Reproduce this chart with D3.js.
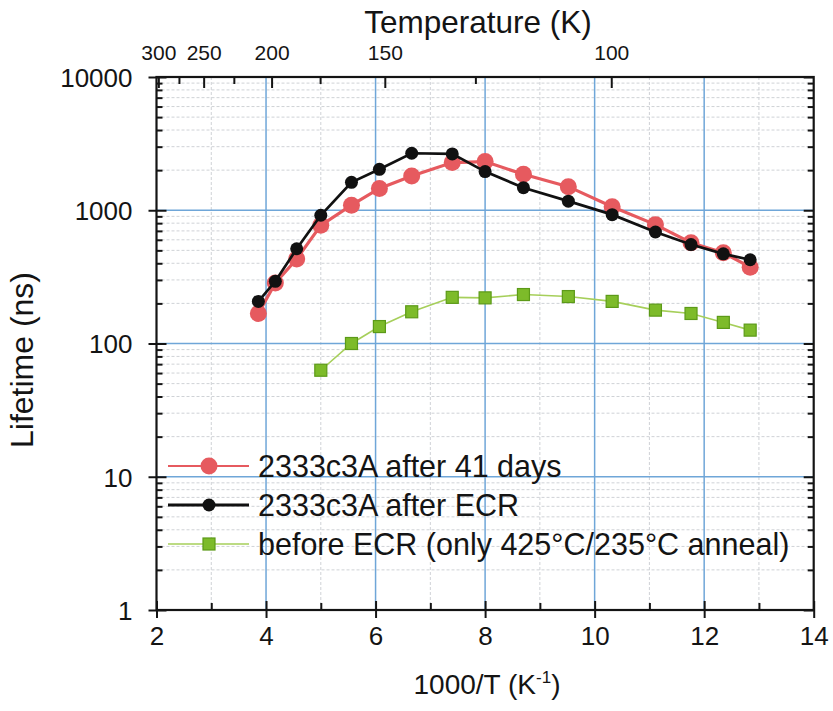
<!DOCTYPE html>
<html>
<head>
<meta charset="utf-8">
<script src="https://cdn.jsdelivr.net/npm/d3@7"></script>
<style>
  html, body { margin: 0; padding: 0; background: #ffffff; }
  svg { display: block; font-family: "Liberation Sans", Arial, sans-serif; }
</style>
</head>
<body>
<svg id="chart" width="833" height="711"></svg>
<script>
// ---- data ----
const xAfter = [3.86, 4.17, 4.56, 5.0, 5.56, 6.07, 6.66, 7.4, 8.0, 8.7, 9.52, 10.32, 11.11, 11.76, 12.35, 12.84];
const red41days = [168, 285, 431, 771, 1091, 1459, 1807, 2280, 2319, 1860, 1503, 1062, 780, 570, 480, 374];
const blackECR  = [207, 293, 514, 917, 1619, 2028, 2678, 2647, 1950, 1476, 1170, 927, 687, 553, 471, 425];
const xBefore = [5.0, 5.56, 6.07, 6.66, 7.4, 8.0, 8.7, 9.52, 10.32, 11.11, 11.76, 12.35, 12.84];
const greenBefore = [63, 100, 134, 173, 222, 220, 233, 225, 207, 178, 168, 144, 126];

const seriesNames = ["2333c3A after 41 days", "2333c3A after ECR", "before ECR (only 425°C/235°C anneal)"];
const xTicks = [2, 4, 6, 8, 10, 12, 14];
const xMinorTicks = [3, 5, 7, 9, 11, 13];
const yTicks = [1, 10, 100, 1000, 10000];
const tempMajor = [300, 250, 200, 150, 100];
const tempMinor = [275, 225, 175, 125];
const topDomain = [3.306, 12.98]; // 1000/T at the left and right edges of the top axis

// ---- layout ----
const L = 156.5, R = 813.7, T = 77, B = 610;
const svg = d3.select("#chart");
const ink = "#141414";

const x = d3.scaleLinear().domain([2, 14]).range([L, R]);
const xTop = d3.scaleLinear().domain(topDomain).range([L, R]);
const y = d3.scaleLog().domain([1, 10000]).range([B, T]);

// minor y values
const yMinor = [];
[1, 10, 100, 1000].forEach(d => { for (let k = 2; k <= 9; k++) yMinor.push(d * k); });

// ---- grid ----
const grid = svg.append("g");
grid.selectAll(".gmy").data(yMinor).enter().append("line")
  .attr("x1", L).attr("x2", R).attr("y1", d => y(d)).attr("y2", d => y(d))
  .attr("stroke", "#cfd2d6").attr("stroke-width", 1).attr("stroke-dasharray", "3,2");
grid.selectAll(".gmx").data(xMinorTicks).enter().append("line")
  .attr("y1", T).attr("y2", B).attr("x1", d => x(d)).attr("x2", d => x(d))
  .attr("stroke", "#cfd2d6").attr("stroke-width", 1).attr("stroke-dasharray", "3,2");
grid.selectAll(".gy").data([10, 100, 1000]).enter().append("line")
  .attr("x1", L).attr("x2", R).attr("y1", d => y(d)).attr("y2", d => y(d))
  .attr("stroke", "#6fa6d8").attr("stroke-width", 1.5);
grid.selectAll(".gx").data([4, 6, 8, 10, 12]).enter().append("line")
  .attr("y1", T).attr("y2", B).attr("x1", d => x(d)).attr("x2", d => x(d))
  .attr("stroke", "#6fa6d8").attr("stroke-width", 1.5);

// ---- axes ----
const fmt = d => String(d);
const gBottom = svg.append("g").attr("transform", `translate(0,${B})`)
  .call(d3.axisBottom(x).tickValues(xTicks).tickFormat(fmt).tickSize(-9).tickPadding(17));
const gBottomMinor = svg.append("g").attr("transform", `translate(0,${B})`)
  .call(d3.axisBottom(x).tickValues(xMinorTicks).tickFormat("").tickSize(-7));
const gBottomOut = svg.append("g").attr("transform", `translate(0,${B})`)
  .call(d3.axisBottom(x).tickValues(xTicks).tickFormat("").tickSize(8));

const gLeft = svg.append("g").attr("transform", `translate(${L},0)`)
  .call(d3.axisLeft(y).tickValues(yTicks).tickFormat(fmt).tickSize(8).tickPadding(16));
const gLeftIn = svg.append("g").attr("transform", `translate(${L},0)`)
  .call(d3.axisLeft(y).tickValues(yTicks).tickFormat("").tickSize(-10));
const gLeftMinor = svg.append("g").attr("transform", `translate(${L},0)`)
  .call(d3.axisLeft(y).tickValues(yMinor).tickFormat("").tickSize(-6));
const gRightMajor = svg.append("g").attr("transform", `translate(${R},0)`)
  .call(d3.axisRight(y).tickValues(yTicks).tickFormat("").tickSize(-10));
const gRightMinor = svg.append("g").attr("transform", `translate(${R},0)`)
  .call(d3.axisRight(y).tickValues(yMinor).tickFormat("").tickSize(-6));

const gTop = svg.append("g").attr("transform", `translate(0,${T})`)
  .call(d3.axisTop(xTop).tickValues(tempMajor.map(t => 1000 / t)).tickFormat((d, i) => tempMajor[i]).tickSize(-11).tickPadding(17));
const gTopMinor = svg.append("g").attr("transform", `translate(0,${T})`)
  .call(d3.axisTop(xTop).tickValues(tempMinor.map(t => 1000 / t)).tickFormat("").tickSize(-7));

[gBottom, gBottomMinor, gBottomOut, gLeft, gLeftIn, gLeftMinor, gRightMajor, gRightMinor, gTop, gTopMinor].forEach(g => {
  g.select(".domain").remove();
  g.selectAll(".tick line").attr("stroke", ink).attr("stroke-width", 2);
  g.selectAll(".tick text").attr("fill", ink).attr("font-family", "Liberation Sans, Arial, sans-serif");
});
gBottom.selectAll(".tick text").attr("font-size", 26);
gLeft.selectAll(".tick text").attr("font-size", 26).attr("dy", "0.36em");
gTop.selectAll(".tick text").attr("font-size", 21);

// frame
svg.append("rect").attr("x", L).attr("y", T).attr("width", R - L).attr("height", B - T)
  .attr("fill", "none").attr("stroke", ink).attr("stroke-width", 2.2);

// ---- titles ----
svg.append("text").attr("x", 478).attr("y", 33).attr("text-anchor", "middle")
  .attr("font-size", 31.5).attr("fill", ink).text("Temperature (K)");
const xt = svg.append("text").attr("x", 487).attr("y", 694).attr("text-anchor", "middle")
  .attr("font-size", 28).attr("fill", ink);
xt.append("tspan").text("1000/T (K");
xt.append("tspan").attr("font-size", 17).attr("dy", -11).text("-1");
xt.append("tspan").attr("dy", 11).text(")");
svg.append("text").attr("transform", "translate(33,360) rotate(-90)").attr("text-anchor", "middle")
  .attr("font-size", 32).attr("fill", ink).text("Lifetime (ns)");

// ---- series ----
const redC = "#e65a5f", blackC = "#111111", greenLine = "#a6cf5a", greenFill = "#7dbb2a", greenStroke = "#5c9a18";
const line = d3.line().x(d => x(d[0])).y(d => y(d[1]));
const redPts = xAfter.map((v, i) => [v, red41days[i]]);
const blackPts = xAfter.map((v, i) => [v, blackECR[i]]);
const greenPts = xBefore.map((v, i) => [v, greenBefore[i]]);

const plot = svg.append("g");
plot.append("path").datum(greenPts).attr("d", line).attr("fill", "none")
  .attr("stroke", greenLine).attr("stroke-width", 1.6);
plot.selectAll(".gm").data(greenPts).enter().append("rect")
  .attr("x", d => x(d[0]) - 6).attr("y", d => y(d[1]) - 6).attr("width", 12).attr("height", 12)
  .attr("fill", greenFill).attr("stroke", greenStroke).attr("stroke-width", 1.2);

plot.append("path").datum(redPts).attr("d", line).attr("fill", "none")
  .attr("stroke", redC).attr("stroke-width", 3.2);
plot.selectAll(".rm").data(redPts).enter().append("circle")
  .attr("cx", d => x(d[0])).attr("cy", d => y(d[1])).attr("r", 8.5).attr("fill", redC);

plot.append("path").datum(blackPts).attr("d", line).attr("fill", "none")
  .attr("stroke", blackC).attr("stroke-width", 2.7);
plot.selectAll(".bm").data(blackPts).enter().append("circle")
  .attr("cx", d => x(d[0])).attr("cy", d => y(d[1])).attr("r", 6.5).attr("fill", blackC);

// ---- legend ----
const leg = svg.append("g");
const legRows = [466, 505, 544];
leg.append("line").attr("x1", 168).attr("x2", 249).attr("y1", legRows[0]).attr("y2", legRows[0])
  .attr("stroke", redC).attr("stroke-width", 1.8);
leg.append("circle").attr("cx", 209).attr("cy", legRows[0]).attr("r", 8.5).attr("fill", redC);
leg.append("line").attr("x1", 168).attr("x2", 249).attr("y1", legRows[1]).attr("y2", legRows[1])
  .attr("stroke", blackC).attr("stroke-width", 3);
leg.append("circle").attr("cx", 209).attr("cy", legRows[1]).attr("r", 6.5).attr("fill", blackC);
leg.append("line").attr("x1", 168).attr("x2", 249).attr("y1", legRows[2]).attr("y2", legRows[2])
  .attr("stroke", greenLine).attr("stroke-width", 1.6);
leg.append("rect").attr("x", 203).attr("y", legRows[2] - 6).attr("width", 12).attr("height", 12)
  .attr("fill", greenFill).attr("stroke", greenStroke).attr("stroke-width", 1.2);
leg.selectAll(".lt").data(seriesNames).enter().append("text")
  .attr("x", 258).attr("y", (d, i) => legRows[i]).attr("dy", "0.36em")
  .attr("font-size", 30.5).attr("fill", ink).text(d => d);
</script>
</body>
</html>
